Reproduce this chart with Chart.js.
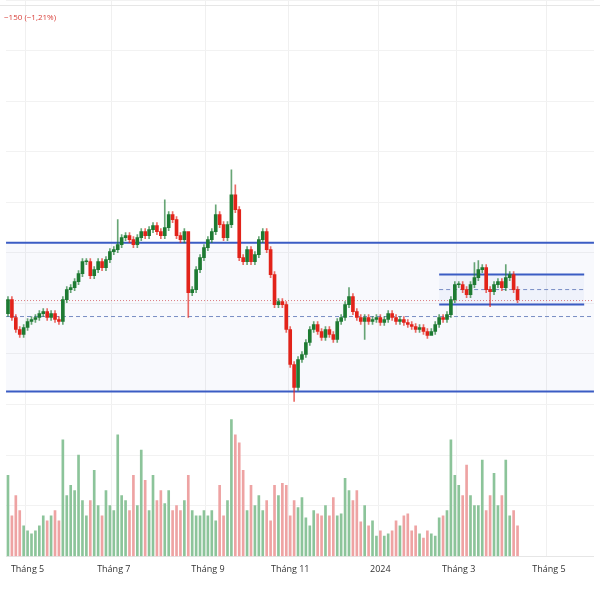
<!DOCTYPE html>
<html>
<head>
<meta charset="utf-8">
<script src="https://cdn.jsdelivr.net/npm/chart.js@4"></script>
<style>
  body { margin: 0; background: #fff; font-family: "Open Sans", sans-serif; }
  #wrap { position: relative; width: 600px; height: 600px; }
  #chg { position: absolute; left: 4px; top: 11px; font-size: 8px; color: #d9413b; }
  #topline { position: absolute; left: 0; top: 5px; width: 600px; border-top: 1px solid #e6e6e6; }
</style>
</head>
<body>
<div id="wrap">
  <canvas id="c" width="600" height="600"></canvas>
  <div id="topline"></div>
  <div id="chg">−150 (−1,21%)</div>
</div>
<script>
// giá đóng cửa (VND)
const closes = [
  12260,12080,11960,11910,11980,12040,12060,12080,12120,12140,
  12080,12120,12060,12040,12260,12360,12380,12440,12520,12640,
  12640,12500,12560,12640,12580,12660,12740,12760,12810,12880,
  12900,12860,12810,12880,12940,12900,12960,13000,12940,12900,
  12980,13110,13060,12900,12860,12940,12330,12360,12560,12680,
  12780,12860,12940,13110,13010,12880,13010,13310,13160,12680,
  12640,12760,12640,12710,12860,12940,12760,12510,12210,12240,
  12210,11960,11610,11380,11660,11710,11830,11960,12010,11940,
  11880,11960,11910,11860,12040,12080,12210,12290,12140,12080,
  12040,12080,12040,12060,12080,12030,12060,12120,12080,12040,
  12060,12030,12010,11990,11960,11980,11940,11900,11940,12010,
  12080,12060,12110,12260,12410,12410,12360,12310,12410,12480,
  12560,12580,12360,12340,12410,12440,12380,12480,12510,12360,
  12260
];
const firstOpen = 12120;
// khối lượng (nghìn cp)
const volumes = [
  80,40,60,45,30,25,22,25,30,40,
  35,40,45,35,115,60,70,65,100,55,
  40,55,85,50,40,65,50,45,120,60,
  55,45,80,50,105,75,45,80,55,65,
  52,65,45,50,45,55,80,45,40,40,
  45,40,45,35,70,40,55,135,120,112,
  85,45,70,50,60,45,55,35,70,60,
  72,70,40,55,48,58,38,30,45,42,
  40,50,40,58,40,42,77,65,55,65,
  34,50,30,35,20,25,20,22,25,35,
  30,40,42,25,30,22,18,25,22,20,
  38,40,45,115,80,70,60,90,60,50,
  50,95,45,60,82,50,60,95,40,45,
  30
];
// râu nến nổi bật: index -> [cao, thấp]
const wickOverrides = {
  28: [13060, null], 40: [13260, null], 46: [12640, 12080], 53: [13210, null],
  57: [13560, null], 58: [13410, null], 73: [null, 11240], 87: [12380, null],
  91: [null, 11860], 108: [null, 11910], 119: [12630, null], 120: [12650, null],
  123: [null, 12190], 127: [12610, null]
};
const tickLabels = { 5: "Tháng 5", 27: "Tháng 7", 51: "Tháng 9", 72: "Tháng 11", 95: "2024", 115: "Tháng 3", 138: "Tháng 5" };
const totalSlots = 150;
const channelBig = { top: 12830, mid: 12090, bottom: 11340 };
const channelSmall = { top: 12510, mid: 12360, bottom: 12210, from: 110, to: 147 };
const lastPrice = 12250;

const labels = Array.from({ length: totalSlots }, (_, i) => tickLabels[i] || "");
const opens = closes.map((c, i) => (i === 0 ? firstOpen : closes[i - 1]));
const up = closes.map((c, i) => c >= opens[i]);
const bodies = closes.map((c, i) => [opens[i], c === opens[i] ? c + 8 : c]);
const wicks = closes.map((c, i) => {
  const o = wickOverrides[i] || [];
  return [o[1] ?? Math.min(c, opens[i]) - 30, o[0] ?? Math.max(c, opens[i]) + 30];
});
const GREEN = "#1d7a32", RED = "#e2231a";
const candleCol = up.map(u => (u ? GREEN : RED));
const volCol = up.map(u => (u ? "#8cc49a" : "#eea3a3"));

function hline(y, from, to, opts) {
  return Object.assign({
    type: "line", data: [{ x: from, y }, { x: to, y }], pointRadius: 0,
    borderWidth: 2, borderColor: "#3b5cc4", xAxisID: "xl", yAxisID: "y", order: 5
  }, opts);
}

new Chart(document.getElementById("c"), {
  data: {
    labels,
    datasets: [
      hline(channelBig.top, -0.5, 149.5, {}),
      hline(channelBig.bottom, -0.5, 149.5, { fill: "-1", backgroundColor: "rgba(70,110,210,0.04)" }),
      hline(channelBig.mid, -0.5, 149.5, { borderWidth: 1, borderColor: "#7a8fc4", borderDash: [4, 3] }),
      hline(channelSmall.top, channelSmall.from, channelSmall.to, {}),
      hline(channelSmall.bottom, channelSmall.from, channelSmall.to, { fill: "-1", backgroundColor: "rgba(70,110,210,0.05)" }),
      hline(channelSmall.mid, channelSmall.from, channelSmall.to, { borderWidth: 1, borderColor: "#7a8fc4", borderDash: [4, 3] }),
      hline(lastPrice, -0.5, 149.5, { borderWidth: 1, borderColor: "#e07b7b", borderDash: [1, 2] }),
      { type: "bar", data: volumes, backgroundColor: volCol, yAxisID: "v", barThickness: 2, grouped: false, order: 10 },
      { type: "bar", data: wicks, backgroundColor: candleCol.map(c => c + "aa"), yAxisID: "y", barThickness: 1, grouped: false, order: 2 },
      { type: "bar", data: bodies, backgroundColor: candleCol, yAxisID: "y", barThickness: 3, grouped: false, order: 1 }
    ]
  },
  options: {
    responsive: false,
    animation: false,
    layout: { padding: { top: 0, bottom: 17, left: 0, right: 0 } },
    plugins: { legend: { display: false }, tooltip: { enabled: false } },
    scales: {
      x: {
        offset: true,
        border: { display: true, color: "#e6e6e6" },
        grid: { color: ctx => (ctx.tick && ctx.tick.label ? "#f0f0f0" : "transparent"), drawTicks: false },
        ticks: { autoSkip: false, maxRotation: 0, padding: 8, color: "#333", font: { size: 9, family: "Open Sans" } }
      },
      xl: { type: "linear", min: -0.5, max: 149.5, display: false },
      y: {
        min: 9690, max: 15260,
        border: { display: false },
        grid: { color: "#f2f2f2", drawTicks: false },
        ticks: { display: false, stepSize: 500 }
      },
      v: { min: 0, max: 550, display: false }
    }
  }
});
</script>
</body>
</html>
